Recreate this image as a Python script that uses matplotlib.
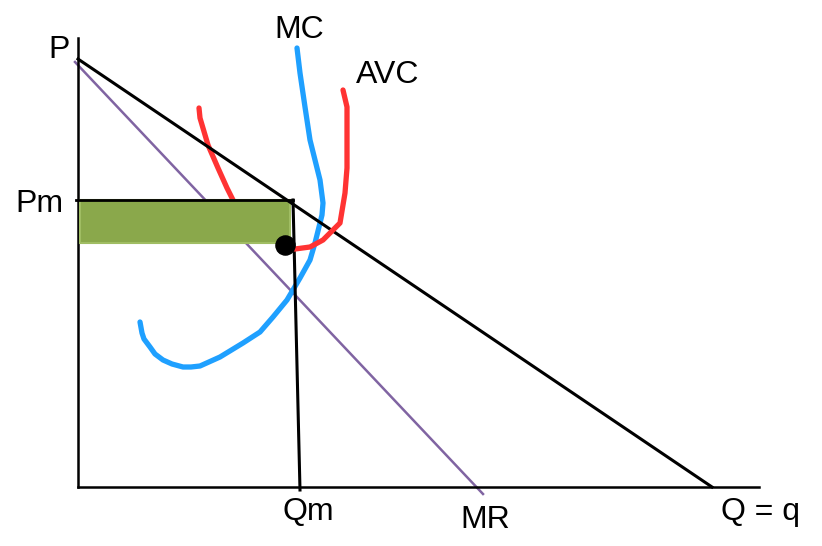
import matplotlib
matplotlib.use("Agg")
import matplotlib.pyplot as plt
from matplotlib.patches import Rectangle

plt.rcParams['font.family'] = ['Liberation Sans', 'DejaVu Sans']

# ---- data (economic units: quantity on x, price on y, origin at axes corner) ----
axis_q_max = 681
axis_p_max = 449

demand_q = [0, 634]
demand_p = [428, 0]

mr_q = [-3, 405]
mr_p = [425, -7]

pm = 287
qm_top = 215
qm_bottom = 222
profit_q = [2, 212]
profit_p = [244, 287]
dot_q, dot_p = 207, 242

mc_q = [219, 222, 227, 232, 237, 239, 242, 245, 244, 242, 237, 232, 222, 209, 195,
        182, 165, 142, 122, 113, 105, 94, 85, 77, 72, 66, 64, 62]
mc_p = [439, 414, 380, 347, 327, 319, 307, 284, 272, 264, 244, 227, 209, 187, 170,
        155, 144, 130, 121, 120, 120, 123, 127, 133, 140, 148, 154, 165]

avc_left_q = [121, 122, 130, 140, 149, 155, 158]
avc_left_p = [379, 369, 342, 319, 299, 287, 281]
avc_right_q = [265, 269, 269, 267, 262, 257, 245, 232, 217, 210]
avc_right_p = [397, 380, 319, 294, 264, 259, 247, 240, 238, 239]

labels = ["P", "Pm", "MC", "AVC", "Qm", "MR", "Q = q"]
label_q = [-19, -38.5, 221, 309.5, 230.5, 407.5, 682]
label_p = [429, 275, 449, 404, -33, -41, -33]

# ---- figure ----
fig = plt.figure(figsize=(8.22, 5.46), dpi=100)
ax = fig.add_axes([0, 0, 1, 1])
ax.set_xlim(-78, 744)
ax.set_ylim(-59, 487)
ax.axis('off')

# axes
ax.plot([0, 0], [0, axis_p_max], color='black', lw=1.8, zorder=3)
ax.plot([0, axis_q_max], [0, 0], color='black', lw=1.8, zorder=3)

# AVC left part (under profit rectangle)
ax.plot(avc_left_q, avc_left_p, color='#ff3333', lw=3.8,
        solid_capstyle='round', solid_joinstyle='round', zorder=2)

# profit rectangle
ax.add_patch(Rectangle((profit_q[0], profit_p[0]), profit_q[1] - profit_q[0],
                       profit_p[1] - profit_p[0], facecolor='#8aa84b',
                       edgecolor='#a0bd63', lw=1.5, zorder=3))

# MR
ax.plot(mr_q, mr_p, color='#8064a2', lw=1.8, zorder=2)

# MC
ax.plot(mc_q, mc_p, color='#1fa0ff', lw=3.8,
        solid_capstyle='round', solid_joinstyle='round', zorder=2)

# demand
ax.plot(demand_q, demand_p, color='black', lw=2.2, zorder=4)

# Pm and Qm lines
ax.plot([-2, qm_top], [pm, pm], color='black', lw=2.0, zorder=4)
ax.plot([qm_top, qm_bottom], [pm, -3], color='black', lw=2.2, zorder=4)

# AVC right part
ax.plot(avc_right_q, avc_right_p, color='#ff3333', lw=3.8,
        solid_capstyle='round', solid_joinstyle='round', zorder=5)

# dot
ax.scatter([dot_q], [dot_p], s=190, color='black', zorder=6)

for t, q, p in zip(labels, label_q, label_p):
    ax.text(q, p, t, fontsize=23, ha='center', va='baseline', color='black')

fig.savefig('out.png', dpi=100)
